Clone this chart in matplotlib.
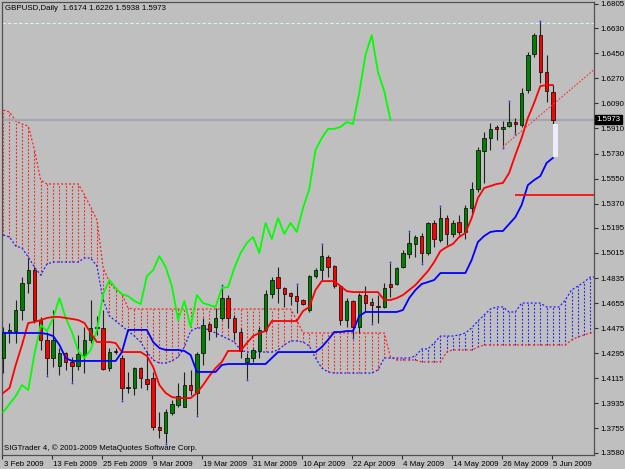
import numpy as np
import matplotlib
matplotlib.use('Agg')
import matplotlib.pyplot as plt
import matplotlib.transforms as mtrans
from matplotlib.patches import Rectangle

# GBPUSD daily candles, 3 Feb 2009 .. 5 Jun 2009 (bar index 0..88)
opens = [1.4260, 1.4447, 1.4454, 1.4605, 1.4799, 1.4892, 1.4533, 1.4390, 1.4260, 1.4203,
         1.4296, 1.4232, 1.4203, 1.4282, 1.4390, 1.4476, 1.4476, 1.4188, 1.4303, 1.4260,
         1.4045, 1.4045, 1.4188, 1.4109, 1.4117, 1.3764, 1.3721, 1.3865, 1.3922, 1.3908,
         1.4066, 1.4009, 1.4296, 1.4505, 1.4483, 1.4548, 1.4691, 1.4548, 1.4447, 1.4232,
         1.4260, 1.4311, 1.4462, 1.4720, 1.4842, 1.4763, 1.4727, 1.4705, 1.4677, 1.4605,
         1.4849, 1.4892, 1.4986, 1.4921, 1.4777, 1.4533, 1.4670, 1.4483, 1.4713, 1.4662,
         1.4634, 1.4627, 1.4792, 1.4792, 1.4914, 1.5008, 1.5080, 1.5137, 1.5015, 1.5231,
         1.5108, 1.5266, 1.5152, 1.5238, 1.5166, 1.5338, 1.5475, 1.5749, 1.5841, 1.5921,
         1.5907, 1.5928, 1.5956, 1.5935, 1.6186, 1.6445, 1.6581, 1.6316, 1.6174]
highs = [1.4483, 1.4512, 1.4677, 1.4842, 1.4979, 1.4914, 1.4555, 1.4447, 1.4605, 1.4332,
         1.4303, 1.4268, 1.4426, 1.4483, 1.4677, 1.4562, 1.4605, 1.4332, 1.4332, 1.4282,
         1.4160, 1.4196, 1.4196, 1.4303, 1.4160, 1.3872, 1.3893, 1.3958, 1.4080, 1.4160,
         1.4174, 1.4303, 1.4548, 1.4519, 1.4619, 1.4777, 1.4713, 1.4569, 1.4476, 1.4296,
         1.4332, 1.4483, 1.4749, 1.4842, 1.4914, 1.4770, 1.4734, 1.4785, 1.4684, 1.4856,
         1.4907, 1.5073, 1.5001, 1.4929, 1.4785, 1.4691, 1.4677, 1.4727, 1.4777, 1.4691,
         1.4713, 1.4799, 1.4943, 1.4914, 1.5037, 1.5166, 1.5144, 1.5159, 1.5238, 1.5252,
         1.5345, 1.5288, 1.5252, 1.5288, 1.5360, 1.5525, 1.5778, 1.5884, 1.5949, 1.5935,
         1.5963, 1.6100, 1.5985, 1.6201, 1.6459, 1.6596, 1.6675, 1.6438, 1.6226]
lows = [1.4152, 1.4368, 1.4368, 1.4533, 1.4727, 1.4512, 1.4318, 1.4138, 1.4196, 1.4138,
        1.4174, 1.4088, 1.4174, 1.4152, 1.4368, 1.4426, 1.4174, 1.4167, 1.4289, 1.3958,
        1.4009, 1.3994, 1.4045, 1.4030, 1.3742, 1.3685, 1.3649, 1.3850, 1.3908, 1.3908,
        1.3994, 1.3850, 1.4210, 1.4390, 1.4411, 1.4533, 1.4476, 1.4390, 1.4260, 1.4109,
        1.4232, 1.4260, 1.4447, 1.4691, 1.4655, 1.4627, 1.4641, 1.4584, 1.4641, 1.4591,
        1.4835, 1.4821, 1.4842, 1.4763, 1.4497, 1.4483, 1.4411, 1.4440, 1.4591, 1.4512,
        1.4512, 1.4619, 1.4698, 1.4785, 1.4907, 1.4979, 1.4986, 1.4943, 1.5001, 1.5058,
        1.5094, 1.5073, 1.5130, 1.5144, 1.5116, 1.5302, 1.5453, 1.5518, 1.5756, 1.5828,
        1.5778, 1.5921, 1.5877, 1.5921, 1.6165, 1.6423, 1.6236, 1.6100, 1.5938]
closes = [1.4447, 1.4462, 1.4605, 1.4799, 1.4892, 1.4533, 1.4390, 1.4260, 1.4390, 1.4296,
          1.4232, 1.4203, 1.4289, 1.4390, 1.4476, 1.4483, 1.4181, 1.4303, 1.4311, 1.4045,
          1.4052, 1.4188, 1.4117, 1.4073, 1.3764, 1.3742, 1.3872, 1.3929, 1.3987, 1.4066,
          1.4030, 1.4289, 1.4497, 1.4454, 1.4548, 1.4691, 1.4548, 1.4447, 1.4311, 1.4260,
          1.4318, 1.4462, 1.4720, 1.4821, 1.4763, 1.4720, 1.4705, 1.4670, 1.4648, 1.4849,
          1.4892, 1.4993, 1.4914, 1.4777, 1.4533, 1.4670, 1.4483, 1.4713, 1.4655, 1.4641,
          1.4627, 1.4763, 1.4770, 1.4907, 1.5015, 1.5087, 1.5130, 1.5015, 1.5231, 1.5116,
          1.5266, 1.5152, 1.5231, 1.5166, 1.5338, 1.5475, 1.5756, 1.5841, 1.5907, 1.5907,
          1.5921, 1.5956, 1.5942, 1.6165, 1.6438, 1.6581, 1.6316, 1.6179, 1.5973]

# Ichimoku lines
tenkan = [1.4009, 1.4045, 1.4210, 1.4354, 1.4512, 1.4519, 1.4533, 1.4548, 1.4555, 1.4555,
          1.4548, 1.4541, 1.4533, 1.4512, 1.4440, 1.4375, 1.4375, 1.4375, 1.4368, 1.4303,
          1.4303, 1.4303, 1.4303, 1.4275, 1.4196, 1.4066, 1.4009, 1.3980, 1.3972, 1.3972,
          1.3972, 1.4009, 1.4066, 1.4131, 1.4188, 1.4232, 1.4311, 1.4311, 1.4311, 1.4368,
          1.4418, 1.4440, 1.4454, 1.4526, 1.4526, 1.4526, 1.4526, 1.4526, 1.4598, 1.4627,
          1.4749, 1.4813, 1.4813, 1.4813, 1.4777, 1.4741, 1.4734, 1.4734, 1.4734, 1.4734,
          1.4734, 1.4677, 1.4677, 1.4691, 1.4713, 1.4749, 1.4785, 1.4835, 1.4885, 1.4950,
          1.5029, 1.5058, 1.5080, 1.5130, 1.5159, 1.5266, 1.5410, 1.5482, 1.5496, 1.5511,
          1.5518, 1.5590, 1.5720, 1.5841, 1.5985, 1.6093, 1.6215, 1.6222, 1.6222]
kijun = [1.4440, 1.4440, 1.4440, 1.4440, 1.4440, 1.4440, 1.4440, 1.4433, 1.4418, 1.4354,
         1.4260, 1.4239, 1.4239, 1.4239, 1.4239, 1.4239, 1.4239, 1.4239, 1.4239, 1.4303,
         1.4462, 1.4462, 1.4462, 1.4462, 1.4375, 1.4332, 1.4318, 1.4318, 1.4318, 1.4311,
         1.4282, 1.4160, 1.4160, 1.4160, 1.4160, 1.4210, 1.4217, 1.4217, 1.4217, 1.4217,
         1.4217, 1.4217, 1.4217, 1.4260, 1.4303, 1.4303, 1.4303, 1.4303, 1.4303, 1.4303,
         1.4303, 1.4339, 1.4390, 1.4447, 1.4447, 1.4454, 1.4454, 1.4562, 1.4591, 1.4591,
         1.4591, 1.4591, 1.4591, 1.4591, 1.4605, 1.4691, 1.4749, 1.4792, 1.4806, 1.4821,
         1.4871, 1.4871, 1.4871, 1.4871, 1.4871, 1.4965, 1.5094, 1.5137, 1.5166, 1.5173,
         1.5173, 1.5223, 1.5273, 1.5360, 1.5503, 1.5539, 1.5568, 1.5662, 1.5698]
# senkou spans, already drawn 26 bars ahead (index 0..95)
span_a = [1.6042, 1.6028, 1.5963, 1.5942, 1.5928, 1.5756, 1.5539, 1.5511, 1.5511, 1.5511,
          1.5511, 1.5511, 1.5511, 1.5432, 1.5345, 1.5252, 1.4907, 1.4806, 1.4749, 1.4720,
          1.4619, 1.4612, 1.4612, 1.4612, 1.4612, 1.4612, 1.4612, 1.4612, 1.4612, 1.4612,
          1.4612, 1.4612, 1.4612, 1.4612, 1.4612, 1.4612, 1.4612, 1.4612, 1.4612, 1.4612,
          1.4612, 1.4612, 1.4612, 1.4612, 1.4612, 1.4612, 1.4612, 1.4533, 1.4440, 1.4440,
          1.4440, 1.4440, 1.4440, 1.4440, 1.4440, 1.4440, 1.4440, 1.4440, 1.4440, 1.4440,
          1.4440, 1.4440, 1.4268, 1.4246, 1.4246, 1.4246, 1.4246, 1.4232, 1.4232, 1.4232,
          1.4232, 1.4303, 1.4318, 1.4318, 1.4318, 1.4318, 1.4339, 1.4354, 1.4354, 1.4354,
          1.4354, 1.4354, 1.4354, 1.4354, 1.4354, 1.4354, 1.4354, 1.4354, 1.4354, 1.4354,
          1.4354, 1.4390, 1.4411, 1.4426, 1.4440, 1.4447]
span_b = [1.5144, 1.5130, 1.5065, 1.5051, 1.4986, 1.4914, 1.4856, 1.4936, 1.4950, 1.4950,
          1.4950, 1.4950, 1.4950, 1.4979, 1.4979, 1.4921, 1.4677, 1.4562, 1.4526, 1.4490,
          1.4454, 1.4418, 1.4375, 1.4303, 1.4246, 1.4224, 1.4224, 1.4239, 1.4268, 1.4339,
          1.4454, 1.4476, 1.4476, 1.4462, 1.4440, 1.4418, 1.4397, 1.4375, 1.4318, 1.4303,
          1.4303, 1.4303, 1.4303, 1.4303, 1.4318, 1.4354, 1.4383, 1.4383, 1.4375, 1.4347,
          1.4260, 1.4188, 1.4160, 1.4152, 1.4152, 1.4152, 1.4152, 1.4152, 1.4152, 1.4152,
          1.4174, 1.4260, 1.4260, 1.4260, 1.4260, 1.4260, 1.4275, 1.4325, 1.4325, 1.4368,
          1.4418, 1.4418, 1.4418, 1.4426, 1.4440, 1.4476, 1.4526, 1.4569, 1.4612, 1.4627,
          1.4627, 1.4591, 1.4591, 1.4655, 1.4655, 1.4655, 1.4655, 1.4627, 1.4627, 1.4627,
          1.4677, 1.4749, 1.4777, 1.4806, 1.4842, 1.4842]
chikou_shift = 26

fractal_up = [35, 47, 51, 62, 65, 70, 81, 86]
fractal_down = [7, 11, 19, 26, 31, 39, 56, 59, 67, 80, 82]

date_labels = ["3 Feb 2009", "13 Feb 2009", "25 Feb 2009", "9 Mar 2009", "19 Mar 2009",
               "31 Mar 2009", "10 Apr 2009", "22 Apr 2009", "4 May 2009", "14 May 2009",
               "26 May 2009", "5 Jun 2009"]
date_step = 8
price_labels = ["1.6805", "1.6630", "1.6450", "1.6270", "1.6090", "1.5910", "1.5730",
                "1.5550", "1.5370", "1.5195", "1.5015", "1.4835", "1.4655", "1.4475",
                "1.4295", "1.4115", "1.3935", "1.3755", "1.3580"]

bid = 1.5973
high_line = 1.6668
level_line = 1.5432
level_start = 82
trend_from = (80, 1.5778)
trend_slope = 0.0038
box_low, box_high = 1.5705, 1.5942

BG = '#bfbfbf'
FONT = 'Liberation Sans'
FS = 5.7

fig = plt.figure(figsize=(6.25, 4.69), dpi=100, facecolor=BG)
ax = fig.add_axes([2 / 625, 14 / 469, 592 / 625, 453 / 469], facecolor=BG)
xmin, xmax = -0.128, 94.59
ax.set_xlim(xmin, xmax)
ax.set_ylim(1.3563, 1.6819)

o = np.array(opens); h = np.array(highs); l = np.array(lows); c = np.array(closes)
x = np.arange(len(c))

# cloud: dotted histogram between the spans + the span lines
a = np.array(span_a); b = np.array(span_b)
xs = np.arange(len(a))
up = a >= b
dot = (0, (1.6, 1.6))
ax.vlines(xs[up], b[up], a[up], colors='#ff2020', linestyles=dot, lw=0.8, zorder=1)
ax.vlines(xs[~up], a[~up], b[~up], colors='#2020ff', linestyles=dot, lw=0.8, zorder=1)
ax.plot(xs, a, color='#ff2020', ls=dot, lw=0.9, zorder=1)
ax.plot(xs, b, color='#2020ff', ls=dot, lw=0.9, zorder=1)

# horizontal levels
ax.axhline(high_line, color='#d8f4f4', ls=(0, (3, 2)), lw=0.8, zorder=1)
ax.axhline(bid, color='#a4a4b4', lw=1.6, zorder=1)

# candles
ax.vlines(x, l, h, color='#202020', lw=0.8, zorder=2)
bull = c >= o
ax.bar(x[bull], (c - o)[bull], bottom=o[bull], width=0.55, color='#008000',
       edgecolor='black', lw=0.5, zorder=3)
ax.bar(x[~bull], (o - c)[~bull], bottom=c[~bull], width=0.55, color='#ff0000',
       edgecolor='black', lw=0.5, zorder=3)

# fractals
fu = np.array(fractal_up); fd = np.array(fractal_down)
ax.plot(fu, h[fu] + 0.0005, ls='none', marker='s', ms=1.2, color='#3030ff', mew=0, zorder=3)
ax.plot(fd, l[fd] - 0.0005, ls='none', marker='s', ms=1.2, color='#3030ff', mew=0, zorder=3)

# ichimoku lines
ax.plot(x[:len(c) - chikou_shift], c[chikou_shift:], color='#00ff00', lw=1.3, zorder=4)
ax.plot(x, tenkan, color='#ff0000', lw=1.3, zorder=4)
ax.plot(x, kijun, color='#0000ff', lw=1.3, zorder=4)

# other objects
ax.add_patch(Rectangle((len(c) - 1 - 0.05, box_low), 0.9, box_high - box_low,
                       facecolor='#ececfa', edgecolor='none', zorder=4))
ax.hlines(level_line, level_start, xmax, color='#ff0000', lw=1.2, zorder=4)
tx = np.array([trend_from[0], xmax])
ax.plot(tx, trend_from[1] + trend_slope * (tx - trend_from[0]),
        color='#ff3030', ls=(0, (1.5, 1.5)), lw=0.8, zorder=4)

# axes look
for s in ax.spines.values():
    s.set_color('#505050')
    s.set_linewidth(0.9)
ax.yaxis.tick_right()
ax.set_yticks([float(t) for t in price_labels])
ax.set_yticklabels(price_labels, fontsize=FS, family=FONT)
ax.set_xticks(np.arange(len(date_labels)) * date_step - 0.2)
ax.set_xticklabels(date_labels, fontsize=FS, family=FONT, ha='left')
ax.tick_params(axis='y', length=3, width=0.8, color='#303030', pad=1.5)
ax.tick_params(axis='x', length=3, width=0.8, color='#303030', pad=1)
for lbl in ax.get_xticklabels():
    lbl.set_transform(lbl.get_transform() + mtrans.ScaledTranslation(1.5 / 100, 0, fig.dpi_scale_trans))

blend = mtrans.blended_transform_factory(ax.transAxes, ax.transData)
ax.text(1.004, bid, '%.4f' % bid, transform=blend, va='center', ha='left', color='white',
        fontsize=FS, family=FONT, zorder=6,
        bbox=dict(facecolor='black', edgecolor='black', pad=0.8))

fig.text(5 / 625, 1 - 8 / 469, 'GBPUSD,Daily  %.4f %.4f %.4f %.4f' % (o[-1], h[-1], l[-1], c[-1]),
         fontsize=FS, family=FONT, va='center', ha='left', color='black')
fig.text(4 / 625, 1 - 448 / 469, 'SIGTrader 4, \u00a9 2001-2009 MetaQuotes Software Corp.',
         fontsize=FS, family=FONT, va='center', ha='left', color='black')

fig.savefig('out.png', dpi=100, facecolor=BG)
